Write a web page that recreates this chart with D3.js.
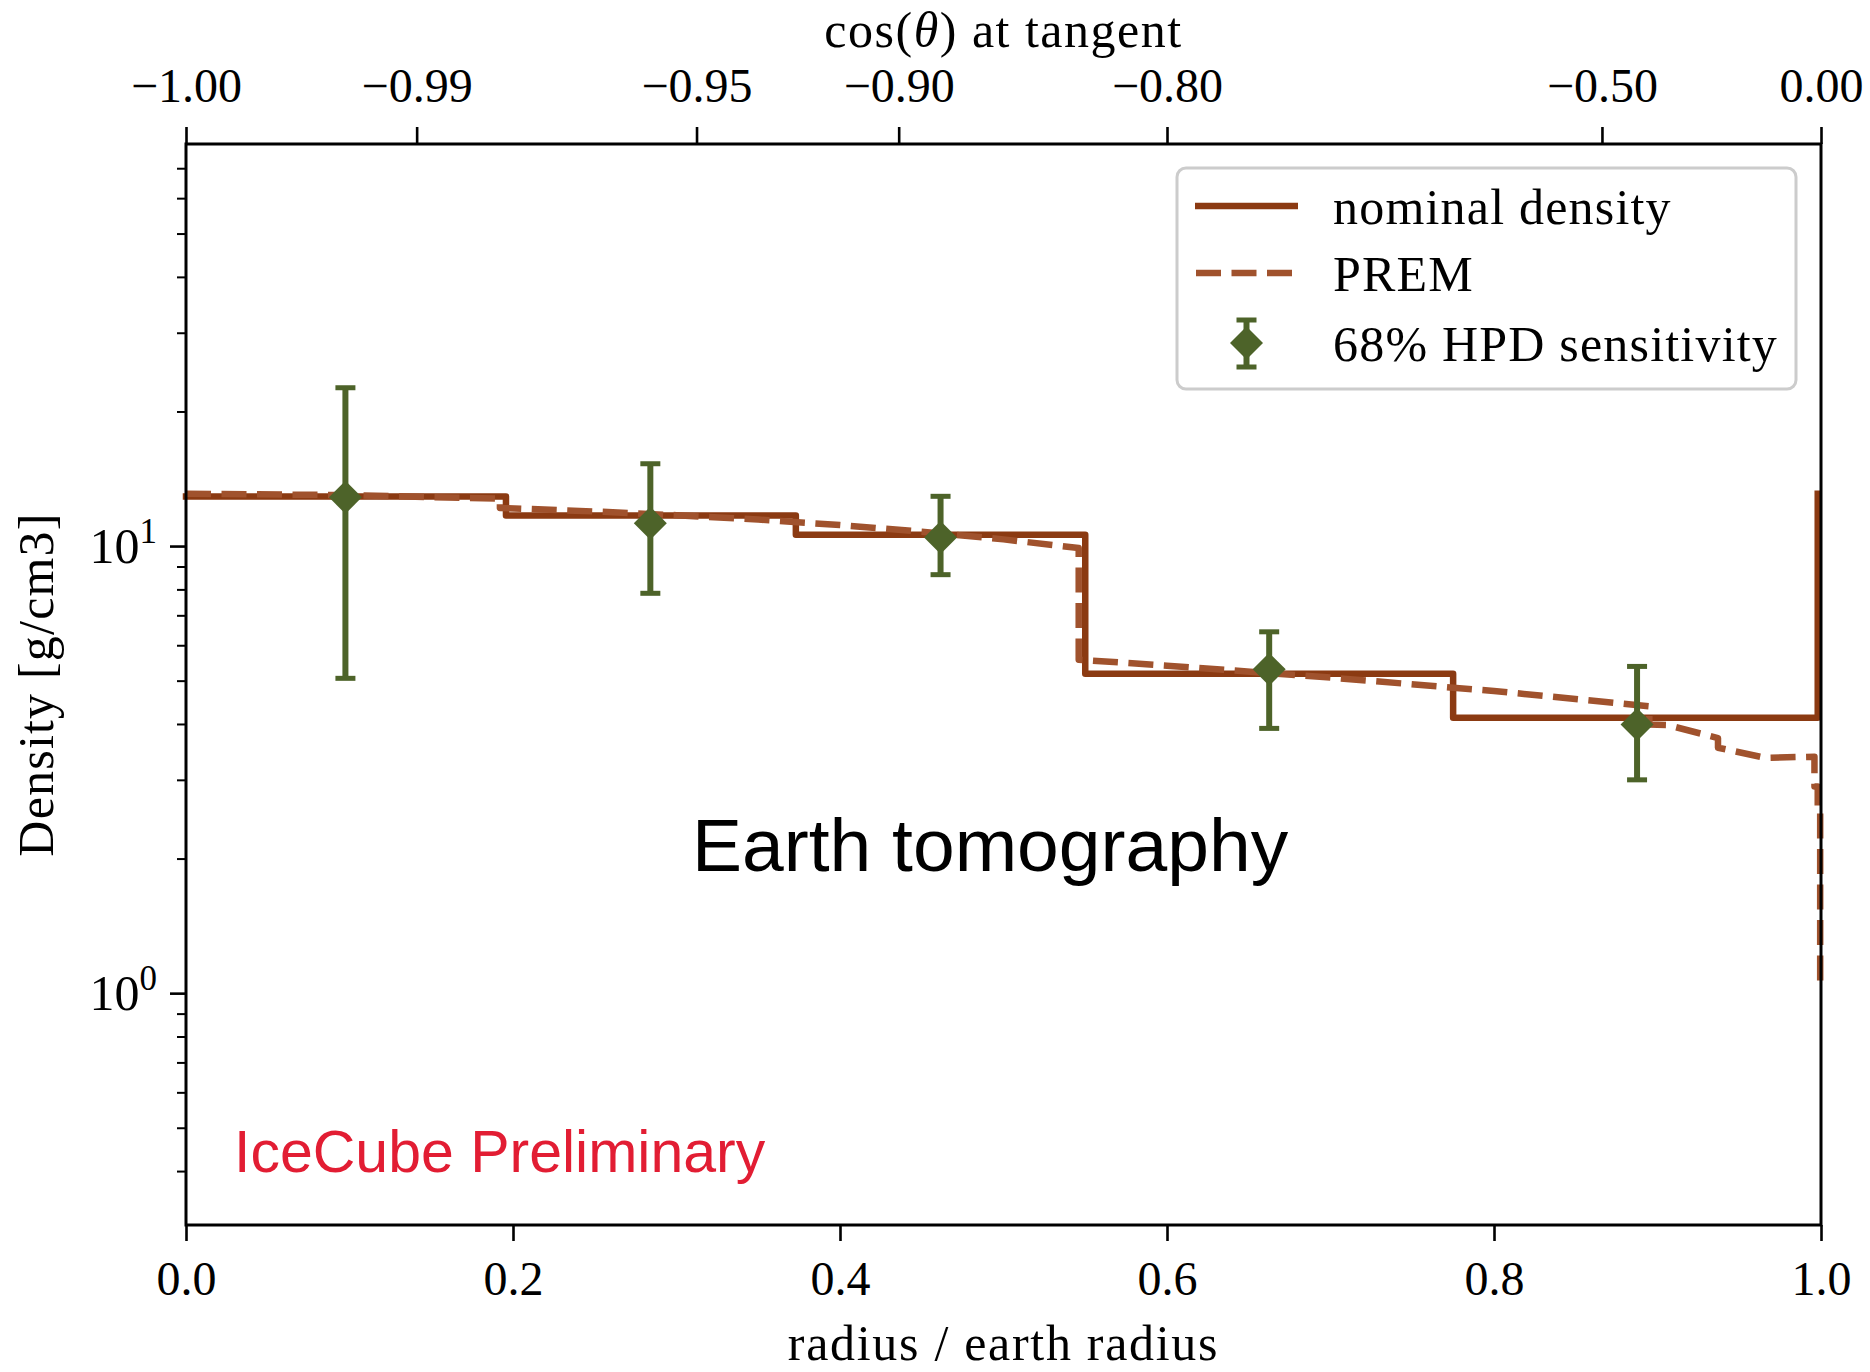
<!DOCTYPE html>
<html>
<head>
<meta charset="utf-8">
<script src="https://cdn.jsdelivr.net/npm/d3@7"></script>
<style>
  html, body { margin: 0; padding: 0; background: #ffffff; }
  svg { display: block; }
</style>
</head>
<body>
<script>
// Nominal (layer-averaged) density: step function over radius / earth radius
const nominalR   = [0, 0.1957, 0.373, 0.55, 0.775, 0.998, 0.998];
const nominalRho = [12.9, 11.7, 10.6, 5.18, 4.13, 4.13, 13.1];

// PREM reference density profile
const premR   = [0, 0.10, 0.192, 0.192, 0.25, 0.30, 0.35, 0.40, 0.45, 0.50, 0.546, 0.546,
                 0.60, 0.70, 0.80, 0.895, 0.895, 0.906, 0.937, 0.937, 0.966, 0.996, 0.996,
                 0.998, 0.998, 0.9995, 0.9995, 1.0];
const premRho = [13.09, 13.0, 12.76, 12.17, 11.95, 11.72, 11.46, 11.14, 10.77, 10.35, 9.90, 5.57,
                 5.40, 5.08, 4.74, 4.38, 3.99, 3.98, 3.72, 3.54, 3.36, 3.38, 2.9,
                 2.9, 2.6, 2.6, 1.02, 1.02];

// 68% HPD sensitivity per layer
const hpdR    = [0.0975, 0.284, 0.4615, 0.6625, 0.8875];
const hpdRho  = [12.85, 11.25, 10.45, 5.30, 3.99];
const hpdLow  = [5.06, 7.84, 8.63, 3.91, 3.00];
const hpdHigh = [22.6, 15.28, 12.92, 6.43, 5.38];

// Axis ticks
const xTicks = [0, 0.2, 0.4, 0.6, 0.8, 1.0];
const yMajorTicks = [1, 10];
const yMinorTicks = [0.4, 0.5, 0.6, 0.7, 0.8, 0.9, 2, 3, 4, 5, 6, 7, 8, 9, 20, 30, 40, 50, 60, 70];
const cosTicks = [-1.00, -0.99, -0.95, -0.90, -0.80, -0.50, 0.00];
const xDomain = [0, 1];
const yDomain = [0.303, 79.3];

const W = 1870, H = 1372;
const plot = { left: 186, right: 1821, top: 144, bottom: 1225 };

const SERIF = "'Liberation Serif', 'Times New Roman', serif";
const SANS = "'Liberation Sans', Arial, Helvetica, sans-serif";
const C_NOMINAL = "#8b3a12";
const C_PREM = "#a0522d";
const C_HPD = "#4d6329";

const svg = d3.select("body").append("svg")
  .attr("width", W).attr("height", H)
  .attr("viewBox", `0 0 ${W} ${H}`);

svg.append("rect").attr("width", W).attr("height", H).attr("fill", "#ffffff");

const x = d3.scaleLinear().domain(xDomain).range([plot.left, plot.right]);
const y = d3.scaleLog().domain(yDomain).range([plot.bottom, plot.top]);

// ---------- axes ----------
function styleAxis(g, fontSize) {
  g.selectAll(".tick line").attr("stroke", "#000").attr("stroke-width", 2.6);
  g.selectAll(".tick text")
    .attr("font-family", SERIF).attr("font-size", fontSize).attr("fill", "#000");
  g.select(".domain").remove();
}

// bottom: radius / earth radius
const gBottom = svg.append("g")
  .attr("transform", `translate(0,${plot.bottom})`)
  .call(d3.axisBottom(x).tickValues(xTicks).tickSize(16).tickPadding(20)
        .tickFormat(d3.format(".1f")));
styleAxis(gBottom, 48);
gBottom.selectAll(".tick text").attr("dy", null).attr("y", 70);

// top: cos(theta) of a path tangent to the shell at that radius
const rOfCos = c => Math.sqrt(1 - c * c);
const fmtCos = c => (c < 0 ? "\u2212" : "") + Math.abs(c).toFixed(2);
const gTop = svg.append("g")
  .attr("transform", `translate(0,${plot.top})`)
  .call(d3.axisTop(x).tickValues(cosTicks.map(rOfCos)).tickSize(17)
        .tickFormat((d, i) => fmtCos(cosTicks[i])));
styleAxis(gTop, 48);
gTop.selectAll(".tick text").attr("dy", null).attr("y", -42);

// left: log density, major ticks with powers of ten
const gLeft = svg.append("g")
  .attr("transform", `translate(${plot.left},0)`)
  .call(d3.axisLeft(y).tickValues(yMajorTicks).tickSize(16).tickFormat(""));
styleAxis(gLeft, 50);
gLeft.selectAll(".tick").each(function(d) {
  const t = d3.select(this).append("text")
    .attr("x", -29).attr("y", 16)
    .attr("text-anchor", "end")
    .attr("font-family", SERIF).attr("font-size", 50).attr("fill", "#000");
  t.append("tspan").text("10");
  t.append("tspan").attr("dy", -20).attr("font-size", 35).text(String(Math.round(Math.log10(d))));
});

const gLeftMinor = svg.append("g")
  .attr("transform", `translate(${plot.left},0)`)
  .call(d3.axisLeft(y).tickValues(yMinorTicks).tickSize(9).tickFormat(""));
styleAxis(gLeftMinor, 48);
gLeftMinor.selectAll(".tick line").attr("stroke-width", 2);

// ---------- data ----------
const nominalPts = nominalR.map((r, i) => [r, nominalRho[i]]);
const premPts = premR.map((r, i) => [r, premRho[i]]);

svg.append("path")
  .datum(nominalPts)
  .attr("d", d3.line().x(d => x(d[0])).y(d => y(d[1])).curve(d3.curveStepAfter))
  .attr("fill", "none")
  .attr("stroke", C_NOMINAL)
  .attr("stroke-width", 6.5)
  .attr("stroke-linejoin", "round")
  .attr("stroke-linecap", "square");

svg.append("path")
  .datum(premPts)
  .attr("d", d3.line().x(d => x(d[0])).y(d => y(d[1])))
  .attr("fill", "none")
  .attr("stroke", C_PREM)
  .attr("stroke-width", 6.5)
  .attr("stroke-dasharray", "25,10.5")
  .attr("stroke-linejoin", "round")
  .attr("stroke-linecap", "butt");

const diamond = s => `M0,${-s}L${s},0L0,${s}L${-s},0Z`;

function errorMarker(g, cx, cy, yHi, yLo) {
  g.append("line").attr("x1", cx).attr("x2", cx).attr("y1", yHi).attr("y2", yLo)
    .attr("stroke", C_HPD).attr("stroke-width", 6);
  [yHi, yLo].forEach(cyCap => {
    g.append("line").attr("x1", cx - 10).attr("x2", cx + 10).attr("y1", cyCap).attr("y2", cyCap)
      .attr("stroke", C_HPD).attr("stroke-width", 5);
  });
  g.append("path").attr("d", diamond(16.5)).attr("transform", `translate(${cx},${cy})`)
    .attr("fill", C_HPD);
}

const gHpd = svg.append("g");
hpdR.forEach((r, i) => {
  errorMarker(gHpd, x(r), y(hpdRho[i]), y(hpdHigh[i]), y(hpdLow[i]));
});

// ---------- spines ----------
const spines = svg.append("g").attr("stroke", "#000").attr("stroke-width", 3).attr("fill", "none");
spines.append("rect")
  .attr("x", plot.left).attr("y", plot.top)
  .attr("width", plot.right - plot.left).attr("height", plot.bottom - plot.top);

// ---------- labels ----------
svg.append("text")
  .attr("x", (plot.left + plot.right) / 2).attr("y", 1360)
  .attr("text-anchor", "middle")
  .attr("font-family", SERIF).attr("font-size", 50).attr("letter-spacing", 1.7)
  .text("radius / earth radius");

const topLabel = svg.append("text")
  .attr("x", (plot.left + plot.right) / 2).attr("y", 47)
  .attr("text-anchor", "middle")
  .attr("font-family", SERIF).attr("font-size", 50).attr("letter-spacing", 1.5);
topLabel.append("tspan").text("cos(");
topLabel.append("tspan").attr("font-style", "italic").text("\u03B8");
topLabel.append("tspan").text(") at tangent");

svg.append("text")
  .attr("transform", `translate(53,${(plot.top + plot.bottom) / 2}) rotate(-90)`)
  .attr("text-anchor", "middle")
  .attr("font-family", SERIF).attr("font-size", 50).attr("letter-spacing", 1.2)
  .text("Density [g/cm3]");

svg.append("text")
  .attr("x", 692).attr("y", 871)
  .attr("font-family", SANS).attr("font-size", 75).attr("fill", "#000")
  .text("Earth tomography");

svg.append("text")
  .attr("x", 234).attr("y", 1172)
  .attr("font-family", SANS).attr("font-size", 59).attr("fill", "#e21d33")
  .text("IceCube Preliminary");

// ---------- legend ----------
const legend = svg.append("g");
legend.append("rect")
  .attr("x", 1177).attr("y", 168).attr("width", 619).attr("height", 221)
  .attr("rx", 9).attr("ry", 9)
  .attr("fill", "#ffffff").attr("fill-opacity", 0.85)
  .attr("stroke", "#cccccc").attr("stroke-width", 3);

const legendItems = [
  { label: "nominal density", kind: "solid", y: 206 },
  { label: "PREM", kind: "dashed", y: 273 },
  { label: "68% HPD sensitivity", kind: "marker", y: 343 }
];
legendItems.forEach(item => {
  if (item.kind === "solid") {
    legend.append("line").attr("x1", 1195).attr("x2", 1298).attr("y1", item.y).attr("y2", item.y)
      .attr("stroke", C_NOMINAL).attr("stroke-width", 6.5);
  } else if (item.kind === "dashed") {
    legend.append("line").attr("x1", 1196).attr("x2", 1298).attr("y1", item.y).attr("y2", item.y)
      .attr("stroke", C_PREM).attr("stroke-width", 6.5).attr("stroke-dasharray", "25,10.5");
  } else {
    errorMarker(legend, 1246.5, item.y, item.y - 23, item.y + 24);
  }
  legend.append("text")
    .attr("x", 1333).attr("y", item.y + 18)
    .attr("font-family", SERIF).attr("font-size", 50).attr("letter-spacing", 1.2)
    .text(item.label);
});
</script>
</body>
</html>
